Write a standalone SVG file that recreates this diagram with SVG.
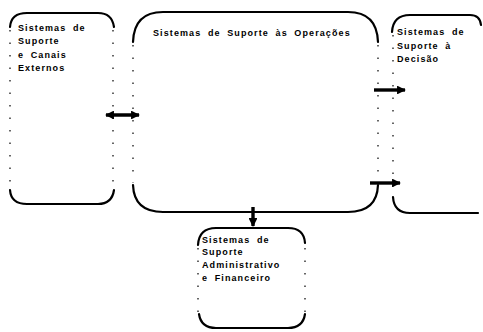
<svg xmlns="http://www.w3.org/2000/svg" width="483" height="332" viewBox="0 0 483 332">
<style>
.edge{fill:none;stroke:#000;stroke-width:2.2;stroke-linecap:round}
.side{fill:none;stroke:#000;stroke-width:1.2;stroke-dasharray:1.5 11}
.t{font-family:"Liberation Sans",Arial,sans-serif;font-size:9px;font-weight:bold;fill:#000;letter-spacing:1.1px;word-spacing:3px}
.conn{fill:none;stroke:#000;stroke-width:3.4}
</style>
<defs>
<marker id="ah" viewBox="0 0 10 10" refX="9" refY="5" markerWidth="2.6" markerHeight="2.6" orient="auto-start-reverse">
<path d="M0,0 L10,5 L0,10 z" fill="#000"/>
</marker>
</defs>
<rect width="483" height="332" fill="#fff"/>
<g id="canais">
<path class="edge" d="M10,27 Q11,13 27,13 L98,13 Q112,13 114,27"/>
<path class="edge" d="M10,190 Q11,204 27,204 L98,204 Q112,204 114,190"/>
<path class="side" d="M10,30 L10,188 M113,30 L113,188"/>
<text class="t" x="18" y="31">Sistemas de</text>
<text class="t" x="18" y="44">Suporte</text>
<text class="t" x="18" y="58">e Canais</text>
<text class="t" x="18" y="71">Externos</text>
</g>
<g id="operacoes">
<path class="edge" d="M133,42 Q134,12 163,12 L348,12 Q377,12 378,42"/>
<path class="edge" d="M133,185 Q134,212 163,212 L348,212 Q377,212 378,185"/>
<path class="side" d="M133,45 L133,183 M378,45 L378,183"/>
<text class="t" x="153" y="36">Sistemas de Suporte às Operações</text>
</g>
<g id="decisao">
<path class="edge" d="M392,32 Q393,15 410,15 L470,15 Q480,15 481,25"/>
<path class="edge" d="M393,197 Q394,213 410,213 L478,213"/>
<path class="side" d="M393,35 L393,195"/>
<text class="t" x="397" y="35">Sistemas de</text>
<text class="t" x="397" y="49">Suporte à</text>
<text class="t" x="397" y="62">Decisão</text>
</g>
<g id="administrativo">
<path class="edge" d="M198,245 Q199,228 216,228 L288,228 Q304,228 305,243"/>
<path class="edge" d="M199,314 Q201,328 216,328 L288,328 Q303,328 305,314"/>
<path class="side" d="M198,248 L198,312 M305,248 L305,312"/>
<text class="t" x="202" y="243">Sistemas de</text>
<text class="t" x="202" y="255">Suporte</text>
<text class="t" x="202" y="268">Administrativo</text>
<text class="t" x="202" y="281">e Financeiro</text>
</g>
<g id="connectors">
<path class="conn" d="M106,115 L139,115" marker-start="url(#ah)" marker-end="url(#ah)"/>
<path class="conn" d="M374,90 L405,90" marker-end="url(#ah)"/>
<path class="conn" d="M370,183 L400,183" marker-end="url(#ah)"/>
<path class="conn" d="M253,207 L253,226" marker-end="url(#ah)"/>
</g>
</svg>
